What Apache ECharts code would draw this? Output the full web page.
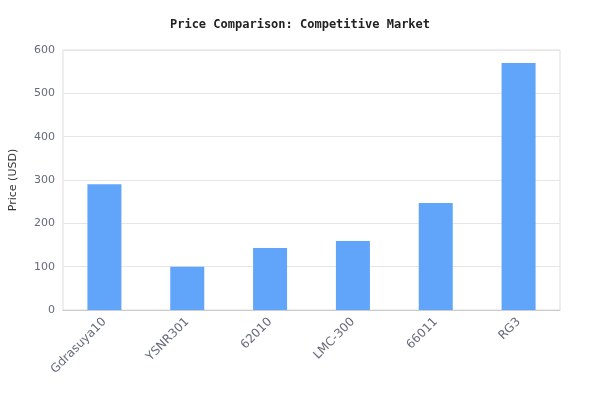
<!DOCTYPE html>
<html><head><meta charset="utf-8">
<script src="https://cdn.jsdelivr.net/npm/echarts@6/dist/echarts.min.js"></script>
<style>html,body{margin:0;padding:0;background:#fff}#c{width:600px;height:420px}</style>
</head><body><div id="c"></div>
<script>
const categories = ["Gdrasuya10","YSNR301","62010","LMC-300","66011","RG3"];
const prices = [290, 100, 143, 159, 247, 570];
const chart = echarts.init(document.getElementById('c'));
chart.setOption({
  animation:false,
  title:{text:'Price Comparison: Competitive Market',left:'center',top:14,
    textStyle:{fontFamily:'DejaVu Sans Mono',fontSize:12,fontWeight:'bold',color:'#222'}},
  grid:{left:60,right:40,top:50,bottom:110,show:true,borderColor:'#ddd',borderWidth:1},
  xAxis:{type:'category',data:categories,
    axisLine:{lineStyle:{color:'#ccc'}},axisTick:{show:false},
    axisLabel:{rotate:45,color:'#666a7a',fontSize:12,fontFamily:'DejaVu Sans',margin:10}},
  yAxis:{type:'value',min:0,max:600,interval:100,name:'Price (USD)',nameLocation:'middle',nameGap:44,
    nameTextStyle:{color:'#333',fontSize:11,fontFamily:'DejaVu Sans'},
    axisLine:{show:false},axisTick:{show:false},
    axisLabel:{color:'#666a7a',fontSize:11,fontFamily:'DejaVu Sans'},
    splitLine:{lineStyle:{color:'#e6e6e6'}}},
  series:[{type:'bar',data:prices,barWidth:34,itemStyle:{color:'#60a5fa'}}]
});
</script></body></html>
